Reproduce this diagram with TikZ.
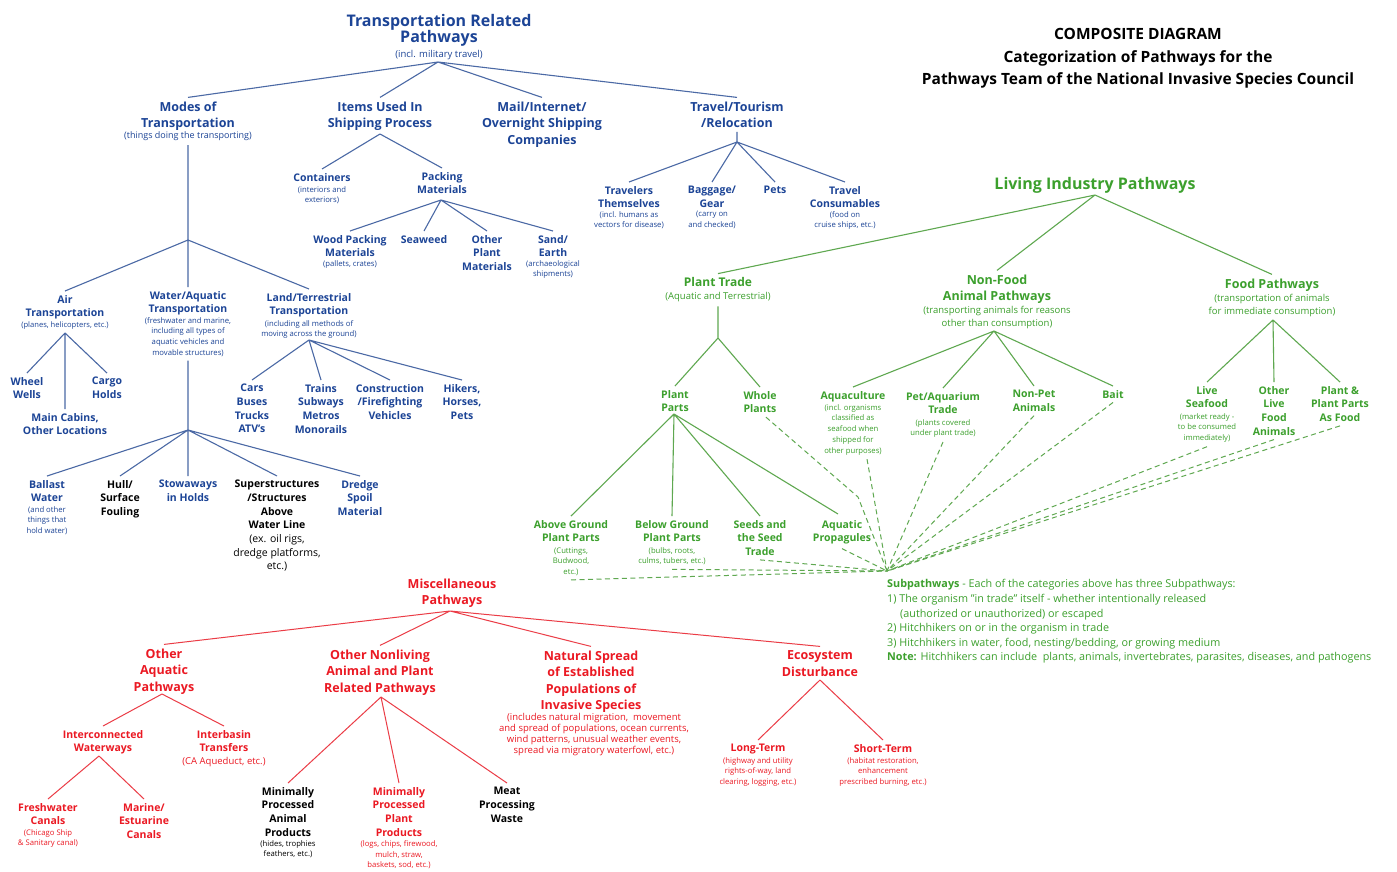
\documentclass[tikz,border=0pt]{standalone}
\usepackage{fontspec}
\setmainfont{Open Sans}
\usetikzlibrary{calc}
\definecolor{tblue}{RGB}{28,68,150}
\definecolor{lblue}{RGB}{75,105,165}
\definecolor{tgreen}{RGB}{60,160,45}
\definecolor{lgreen}{RGB}{95,168,80}
\definecolor{tred}{RGB}{235,25,35}
\definecolor{lred}{RGB}{235,60,70}
\begin{document}
\begin{tikzpicture}[x=1pt,y=-1pt,
  every node/.style={inner xsep=2pt, inner ysep=4pt, align=center, anchor=north},
  L1/.style={font=\fontsize{16}{16.5}\selectfont\bfseries},
  L2/.style={font=\fontsize{12.5}{16.5}\selectfont\bfseries},
  L3/.style={font=\fontsize{10.5}{13.7}\selectfont\bfseries},
  P1/.style={font=\fontsize{9.5}{12}\selectfont},
  P2/.style={font=\fontsize{7.7}{10.7}\selectfont},
  tB/.style={text=tblue}, tG/.style={text=tgreen}, tR/.style={text=tred}, tK/.style={text=black},
  bl/.style={draw=lblue, line width=1.1pt},
  gl/.style={draw=lgreen, line width=1.1pt},
  rl/.style={draw=lred, line width=1pt},
  gd/.style={gl, line width=1pt, dash pattern=on 5pt off 3.5pt}]
\useasboundingbox (0,0) rectangle (1397,871);
\fill[white] (0,0) rectangle (1397,871);
% title
\node[tK, font=\fontsize{15.5}{22.5}\selectfont\bfseries] (title) at (1138,24.3) {COMPOSITE DIAGRAM\\Categorization of Pathways for the\\Pathways Team of the National Invasive Species Council};
% ---------- blue ----------
\node[tB,L1] (tr) at (439,10) {Transportation Related\\Pathways};
\node[tB,P1] (trS) at (439,46.5) {(incl. military travel)};
\node[tB,L2] (modes) at (188,97.4) {Modes of\\Transportation};
\node[tB,font=\fontsize{9}{11}\selectfont] (modesS) at (188,127.7) {(things doing the transporting)};
\node[tB,L2] (items) at (380,97.4) {Items Used In\\Shipping Process};
\node[tB,L2] (mail) at (542,97.4) {Mail/Internet/\\Overnight Shipping\\Companies};
\node[tB,L2] (travel) at (737,97.4) {Travel/Tourism\\/Relocation};
\node[tB,L3] (cont) at (322,169) {Containers};
\node[tB,P2] (contS) at (322,182.2) {(interiors and\\exteriors)};
\node[tB,L3] (pack) at (442,168) {Packing\\Materials};
\node[tB,L3] (wood) at (350,231) {Wood Packing\\Materials};
\node[tB,P2] (woodS) at (350,256) {(pallets, crates)};
\node[tB,L3] (seaw) at (424,231) {Seaweed};
\node[tB,L3] (oplant) at (487,231) {Other\\Plant\\Materials};
\node[tB,L3] (sand) at (553,231) {Sand/\\Earth};
\node[tB,P2] (sandS) at (553,256) {(archaeological\\shipments)};
\node[tB,L3] (trav) at (629,182) {Travelers\\Themselves};
\node[tB,P2] (travS) at (629,207) {(incl. humans as\\vectors for disease)};
\node[tB,L3] (bag) at (712,182) {Baggage/\\Gear};
\node[tB,P2] (bagS) at (712,207) {(carry on\\and checked)};
\node[tB,L3] (pets) at (775,182) {Pets};
\node[tB,L3] (cons) at (845,182) {Travel\\Consumables};
\node[tB,P2] (consS) at (845,207) {(food on\\cruise ships, etc.)};
\node[tB,L3] (air) at (65,291) {Air\\Transportation};
\node[tB,font=\fontsize{7.6}{10}\selectfont] (airS) at (65,317.4) {(planes, helicopters, etc.)};
\node[tB,L3] (wheel) at (27,373) {Wheel\\Wells};
\node[tB,L3] (cargo) at (107,373) {Cargo\\Holds};
\node[tB,L3] (mainc) at (65,409) {Main Cabins,\\Other Locations};
\node[tB,L3] (water) at (188,287) {Water/Aquatic\\Transportation};
\node[tB,P2] (waterS) at (188,313) {(freshwater and marine,\\including all types of\\aquatic vehicles and\\movable structures)};
\node[tB,L3] (land) at (309,289) {Land/Terrestrial\\Transportation};
\node[tB,P2] (landS) at (309,316) {(including all methods of\\moving across the ground)};
\node[tB,L3] (cars) at (252,380) {Cars\\Buses\\Trucks\\ATV's};
\node[tB,L3] (trains) at (321,380) {Trains\\Subways\\Metros\\Monorails};
\node[tB,L3] (constr) at (390,380) {Construction\\/Firefighting\\Vehicles};
\node[tB,L3] (hikers) at (462,380) {Hikers,\\Horses,\\Pets};
\node[tB,L3] (ballast) at (47,476) {Ballast\\Water};
\node[tB,P2] (ballastS) at (47,502) {(and other\\things that\\hold water)};
\node[tK,L3] (hull) at (120,476) {Hull/\\Surface\\Fouling};
\node[tB,L3] (stow) at (188,476) {Stowaways\\in Holds};
\node[tK,L3] (super) at (277,476) {Superstructures\\/Structures\\Above\\Water Line};
\node[tK,font=\fontsize{10.5}{13.5}\selectfont] (superS) at (277,530.8) {(ex. oil rigs,\\dredge platforms,\\etc.)};
\node[tB,L3] (dredge) at (360,476) {Dredge\\Spoil\\Material};
% blue connectors
\coordinate (tA) at (438,62);
\draw[bl] (tA) -- (modes.north) (tA) -- (items.north) (tA) -- (mail.north) (tA) -- (travel.north);
\coordinate (iA) at (380,134);
\draw[bl] (iA) -- (cont.north) (iA) -- (pack.north);
\coordinate (pA) at (441,200);
\draw[bl] (pA) -- (wood.north) (pA) -- (seaw.north) (pA) -- (oplant.north) (pA) -- (sand.north);
\coordinate (trA) at (737,142);
\draw[bl] (travel.south) -- (trA) (trA) -- (trav.north) (trA) -- (bag.north) (trA) -- (pets.north) (trA) -- (cons.north);
\coordinate (mA) at (188,240);
\draw[bl] (modesS.south) -- (mA) (mA) -- (air.north) (mA) -- (water.north) (mA) -- (land.north);
\coordinate (aA) at (65,333);
\draw[bl] (aA) -- (wheel.north) (aA) -- (mainc.north) (aA) -- (cargo.north);
\coordinate (wA) at (188,430);
\draw[bl] (waterS.south) -- (wA) (wA) -- (ballast.north) (wA) -- (hull.north) (wA) -- (stow.north) (wA) -- (super.north) (wA) -- (dredge.north);
\coordinate (lA) at (309,340);
\draw[bl] (lA) -- (cars.north) (lA) -- (trains.north) (lA) -- (constr.north) (lA) -- (hikers.north);
% ---------- green ----------
\node[tG,L1] (living) at (1095,173) {Living Industry Pathways};
\node[tG,font=\fontsize{12}{15}\selectfont\bfseries] (ptrade) at (718,273.6) {Plant Trade};
\node[tG,P1] (ptradeS) at (718,288.5) {(Aquatic and Terrestrial)};
\node[tG,L2] (nonfood) at (997,270.4) {Non-Food\\Animal Pathways};
\node[tG,font=\fontsize{9.5}{13}\selectfont] (nonfoodS) at (997,302.5) {(transporting animals for reasons\\other than consumption)};
\node[tG,L2] (food) at (1272,274.4) {Food Pathways};
\node[tG,font=\fontsize{9.5}{13}\selectfont] (foodS) at (1272,290.5) {(transportation of animals\\for immediate consumption)};
\node[tG,L3] (pparts) at (675,386) {Plant\\Parts};
\node[tG,L3] (whole) at (760,387) {Whole\\Plants};
\node[tG,L3] (aqua) at (853,387) {Aquaculture};
\node[tG,P2] (aquaS) at (853,400.2) {(incl. organisms\\classified as\\seafood when\\shipped for\\other purposes)};
\node[tG,L3] (pet) at (943,388) {Pet/Aquarium\\Trade};
\node[tG,P2] (petS) at (943,415.2) {(plants covered\\under plant trade)};
\node[tG,L3] (nonpet) at (1034,386) {Non-Pet\\Animals};
\node[tG,L3] (bait) at (1113,386) {Bait};
\node[tG,L3] (lsea) at (1207,382) {Live\\Seafood};
\node[tG,P2] (lseaS) at (1207,409.2) {(market ready -\\to be consumed\\immediately)};
\node[tG,L3] (olive) at (1274,382) {Other\\Live\\Food\\Animals};
\node[tG,L3] (pfood) at (1340,382) {Plant \&\\Plant Parts\\As Food};
\node[tG,L3] (above) at (571,516) {Above Ground\\Plant Parts};
\node[tG,P2] (aboveS) at (571,543.2) {(Cuttings,\\Budwood,\\etc.)};
\node[tG,L3] (below) at (672,516) {Below Ground\\Plant Parts};
\node[tG,P2] (belowS) at (672,543.2) {(bulbs, roots,\\culms, tubers, etc.)};
\node[tG,L3] (seeds) at (760,516) {Seeds and\\the Seed\\Trade};
\node[tG,L3] (aprop) at (842,516) {Aquatic\\Propagules};
\node[tG,anchor=north west,align=left,font=\fontsize{10.8}{14.6}\selectfont] (subp) at (885,575.5) {\textbf{Subpathways} - Each of the categories above has three Subpathways:\\
1) The organism "in trade" itself - whether intentionally released\\
\hspace*{13pt}(authorized or unauthorized) or escaped\\
2) Hitchhikers on or in the organism in trade\\
3) Hitchhikers in water, food, nesting/bedding, or growing medium\\
\textbf{Note:} Hitchhikers can include\ \ plants, animals, invertebrates, parasites, diseases, and pathogens};
% green connectors
\coordinate (gA) at (1095,195);
\draw[gl] (gA) -- (ptrade.north) (gA) -- (nonfood.north) (gA) -- (food.north);
\coordinate (ptA) at (718,338);
\draw[gl] (ptradeS.south) -- (ptA) (ptA) -- (pparts.north) (ptA) -- (whole.north);
\coordinate (ppA) at (674,414);
\draw[gl] (ppA) -- (above.north) (ppA) -- (below.north) (ppA) -- (seeds.north) (ppA) -- ($(aprop.north)+(-4,-2)$);
\coordinate (nfA) at (994,331);
\draw[gl] (nfA) -- (aqua.north) (nfA) -- (pet.north) (nfA) -- (nonpet.north) (nfA) -- (bait.north);
\coordinate (fA) at (1273,320);
\draw[gl] (fA) -- (lsea.north) (fA) -- (olive.north) (fA) -- (pfood.north);
\coordinate (conv) at (887,571);
\coordinate (wpBend) at (858,497);
\draw[gd] ($(whole.south)+(6,0)$) -- (wpBend) -- (conv);
\draw[gd] ($(aquaS.south)+(14,0)$) -- (conv);
\draw[gd] (petS.south) -- (conv);
\draw[gd] (nonpet.south) -- (conv);
\draw[gd] (bait.south) -- (conv);
\draw[gd] (lseaS.south) -- (conv);
\draw[gd] (olive.south) -- (conv);
\draw[gd] (pfood.south) -- (conv);
\draw[gd] (aboveS.south) -- (conv);
\draw[gd] (belowS.south) -- (conv);
\draw[gd] (seeds.south) -- (conv);
\draw[gd] (aprop.south) -- (conv);
% ---------- red ----------
\node[tR,L2] (misc) at (452,574.4) {Miscellaneous\\Pathways};
\node[tR,L2] (oaq) at (164,644.4) {Other\\Aquatic\\Pathways};
\node[tR,L2] (nonl) at (380,645.4) {Other Nonliving\\Animal and Plant\\Related Pathways};
\node[tR,L2] (nat) at (591,646.4) {Natural Spread\\of Established\\Populations of\\Invasive Species};
\node[tR,font=\fontsize{9.5}{11}\selectfont] (natS) at (594,709.5) {(includes natural migration,\ \ movement\\and spread of populations, ocean currents,\\wind patterns, unusual weather events,\\spread via migratory waterfowl, etc.)};
\node[tR,L2] (eco) at (820,646.4) {Ecosystem\\Disturbance};
\node[tR,L3] (inter) at (103,726) {Interconnected\\Waterways};
\node[tR,L3] (interb) at (224,726) {Interbasin\\Transfers};
\node[tR,P1] (interbS) at (224,753.5) {(CA Aqueduct, etc.)};
\node[tR,L3] (fresh) at (48,799) {Freshwater\\Canals};
\node[tR,P2] (freshS) at (48,825.2) {(Chicago Ship\\\& Sanitary canal)};
\node[tR,L3] (marine) at (144,799) {Marine/\\Estuarine\\Canals};
\node[tK,L3] (mina) at (288,783) {Minimally\\Processed\\Animal\\Products};
\node[tK,P2] (minaS) at (288,836.2) {(hides, trophies\\feathers, etc.)};
\node[tR,L3] (minp) at (399,783) {Minimally\\Processed\\Plant\\Products};
\node[tR,P2] (minpS) at (399,836.2) {(logs, chips, firewood,\\mulch, straw,\\baskets, sod, etc.)};
\node[tK,L3] (meat) at (507,783) {Meat\\Processing\\Waste};
\node[tR,L3] (longt) at (758,740) {Long-Term};
\node[tR,P2] (longtS) at (758,753.2) {(highway and utility\\rights-of-way, land\\clearing, logging, etc.)};
\node[tR,L3] (shortt) at (883,740) {Short-Term};
\node[tR,P2] (shorttS) at (883,753.2) {(habitat restoration,\\enhancement\\prescribed burning, etc.)};
% red connectors
\coordinate (rA) at (450,611);
\draw[rl] (rA) -- (oaq.north) (rA) -- (nonl.north) (rA) -- (nat.north) (rA) -- (eco.north);
\coordinate (oaA) at (162,694);
\draw[rl] (oaA) -- (inter.north) (oaA) -- (interb.north);
\coordinate (icA) at (99,756);
\draw[rl] (icA) -- (fresh.north) (icA) -- (marine.north);
\coordinate (nlA) at (381,697);
\draw[rl] (nlA) -- (mina.north) (nlA) -- (minp.north) (nlA) -- (meat.north);
\coordinate (ecA) at (820,680);
\draw[rl] (ecA) -- (longt.north) (ecA) -- (shortt.north);
\end{tikzpicture}
\end{document}
